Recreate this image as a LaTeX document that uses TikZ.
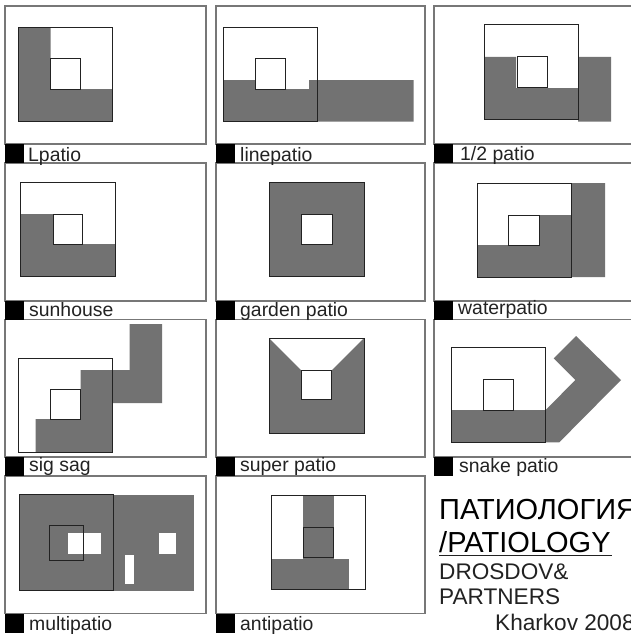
\documentclass[tikz,border=0pt]{standalone}
\usepackage{fontspec}
\setmainfont{Liberation Sans}
\definecolor{patiogray}{HTML}{727272}
\definecolor{framegray}{HTML}{777777}
\definecolor{inkblack}{HTML}{222222}

\begin{document}
\begin{tikzpicture}[x=1pt, y=-1pt]
      % Styles
      \tikzstyle{frame} = [draw=framegray, line width=1.1pt]
      \tikzstyle{tag} = [fill=black]
      \tikzstyle{patio} = [fill=patiogray]
      \tikzstyle{house} = [draw=inkblack, line width=1pt]
      \tikzstyle{court} = [draw=inkblack, line width=1pt, fill=white]
      \tikzstyle{caption} = [anchor=base west, inner sep=0pt, text=inkblack, font=\fontsize{19.4}{22}\selectfont]
      \tikzstyle{title} = [anchor=base west, inner sep=0pt, text=black, font=\fontsize{29}{32}\selectfont]
      \tikzstyle{credit} = [anchor=base west, inner sep=0pt, text=inkblack, font=\fontsize{22.6}{26}\selectfont]

      \clip (0, 0) rectangle (631, 634);
      \fill[white] (0, 0) rectangle (631, 634);

      % Frames, first column
      \draw[frame] (5, 6) rectangle (206, 144);
      \draw[frame] (5, 163) rectangle (206, 301);
      \draw[frame] (5, 319.5) rectangle (206, 457);
      \draw[frame] (5, 476) rectangle (206, 613.5);
      % Frames, second column
      \draw[frame] (216, 6) rectangle (425, 144);
      \draw[frame] (216, 163) rectangle (425, 301);
      \draw[frame] (216, 319.5) rectangle (425, 457);
      \draw[frame] (216, 476) rectangle (425, 613.5);
      % Frames, third column
      \draw[frame] (434, 6) rectangle (640, 144);
      \draw[frame] (434, 163) rectangle (640, 301);
      \draw[frame] (434, 319.5) rectangle (640, 457);

      % Black tags
      \fill[tag] (5, 144) rectangle (24, 163);
      \fill[tag] (216, 144) rectangle (234.5, 163);
      \fill[tag] (434, 144) rectangle (453, 163);
      \fill[tag] (5, 301) rectangle (24, 320);
      \fill[tag] (216, 301) rectangle (234.5, 320);
      \fill[tag] (434, 301) rectangle (453, 320);
      \fill[tag] (5, 457) rectangle (24, 476);
      \fill[tag] (216, 457) rectangle (234.5, 476);
      \fill[tag] (434, 457) rectangle (453, 476);
      \fill[tag] (5, 613.5) rectangle (24, 633);
      \fill[tag] (216, 613.5) rectangle (234.5, 633);

      % Lpatio
      \fill[patio] (18, 28) -- (50.5, 28) -- (50.5, 89) -- (112.5, 89) -- (112.5, 121) -- (18, 121) -- cycle;
      \draw[house] (18, 28) rectangle (112.5, 121);
      \draw[court] (50.5, 59) rectangle (80.5, 89);
      \node[caption] (lpatio) at (28, 161) {Lpatio};

      % linepatio
      \fill[patio] (223, 80) -- (255, 80) -- (255, 89) -- (309, 89) -- (309, 80) -- (413.5, 80) -- (413.5, 121.5) -- (223, 121.5) -- cycle;
      \draw[house] (223, 28) rectangle (317.5, 121.5);
      \draw[court] (255, 59) rectangle (285, 89);
      \node[caption] (linepatio) at (240, 161) {linepatio};

      % 1/2 patio
      \fill[patio] (484, 57) -- (516, 57) -- (516, 88) -- (578, 88) -- (578, 57) -- (611, 57) -- (611, 121.5) -- (578, 121.5) -- (578, 119) -- (484, 119) -- cycle;
      \draw[house] (484, 25) rectangle (578.5, 119);
      \draw[court] (517, 57) rectangle (547.5, 87);
      \node[caption] (halfpatio) at (460, 160) {1/2 patio};

      % sunhouse
      \fill[patio] (20.5, 214) -- (53, 214) -- (53, 244) -- (115, 244) -- (115, 276) -- (20.5, 276) -- cycle;
      \draw[house] (20.5, 182) rectangle (115, 276);
      \draw[court] (53, 214) rectangle (82.5, 244);
      \node[caption] (sunhouse) at (29, 316) {sunhouse};

      % garden patio
      \fill[patio] (269.5, 182) rectangle (364.5, 276);
      \draw[house] (269.5, 182) rectangle (364.5, 276);
      \draw[court] (301.5, 214) rectangle (332, 244);
      \node[caption] (garden) at (240, 316) {garden patio};

      % waterpatio
      \fill[patio] (477, 245) -- (539, 245) -- (539, 215) -- (571, 215) -- (571, 183) -- (605, 183) -- (605, 277) -- (477, 277) -- cycle;
      \draw[house] (477, 183) rectangle (571, 277);
      \draw[court] (508.5, 215) rectangle (539, 245);
      \node[caption] (water) at (458, 314) {waterpatio};

      % sig sag
      \fill[patio] (35.5, 419) -- (80.5, 419) -- (80.5, 370) -- (129.5, 370) -- (129.5, 324) -- (162, 324) -- (162, 403) -- (112.5, 403) -- (112.5, 452) -- (35.5, 452) -- cycle;
      \draw[house] (18, 358) rectangle (112.5, 452);
      \draw[court] (50.5, 389) rectangle (80.5, 419);
      \node[caption] (sigsag) at (29, 471) {sig sag};

      % super patio
      \fill[patio] (269, 338) -- (301, 370) -- (332, 370) -- (364, 338) -- (364, 433) -- (269, 433) -- cycle;
      \draw[house] (269, 338) rectangle (364, 433);
      \draw[court] (301, 370) rectangle (331.5, 399.5);
      \node[caption] (super) at (240, 471) {super patio};

      % snake patio
      \fill[patio] (451, 410) -- (545.7, 410) -- (575.3, 380) -- (553.7, 358.3) -- (576, 336) -- (621, 380) -- (559.3, 442.3) -- (451, 442.3) -- cycle;
      \draw[house] (451, 347.7) rectangle (545.7, 442.3);
      \draw[court] (483.3, 379.7) rectangle (513.3, 410);
      \node[caption] (snake) at (459, 472) {snake patio};

      % multipatio
      \fill[patio] (19, 495) rectangle (194.3, 590.7);
      \fill[white] (68, 533) rectangle (100.7, 554);
      \fill[white] (159, 533) rectangle (176, 554);
      \fill[white] (124.5, 555) rectangle (133.7, 583.7);
      \draw[house] (19, 494.5) rectangle (113.5, 590.3);
      \draw[house] (49, 525) rectangle (83.5, 560);
      \node[caption] (multi) at (29, 630.5) {multipatio};

      % antipatio
      \fill[patio] (303, 495) rectangle (333.5, 559);
      \fill[patio] (271, 559) rectangle (349.3, 589.7);
      \draw[house] (271, 495) rectangle (365.3, 589.7);
      \draw[house] (303, 527.3) rectangle (333.5, 557.3);
      \node[caption] (anti) at (240, 630.5) {antipatio};

      % Title block
      \node[title] (ru) at (439, 519) {ПАТИОЛОГИЯ};
      \node[title] (en) at (439, 552) {/PATIOLOGY};
      \draw[inkblack, line width=1pt] (en.base west) ++(0, 3) -- ++(173, 0);
      \node[credit] (drosdov) at (439, 579) {DROSDOV\&};
      \node[credit] (partners) at (439, 604) {PARTNERS};
      \node[credit] (kharkov) at (495, 630) {Kharkov 2008};

    \end{tikzpicture}
\end{document}
